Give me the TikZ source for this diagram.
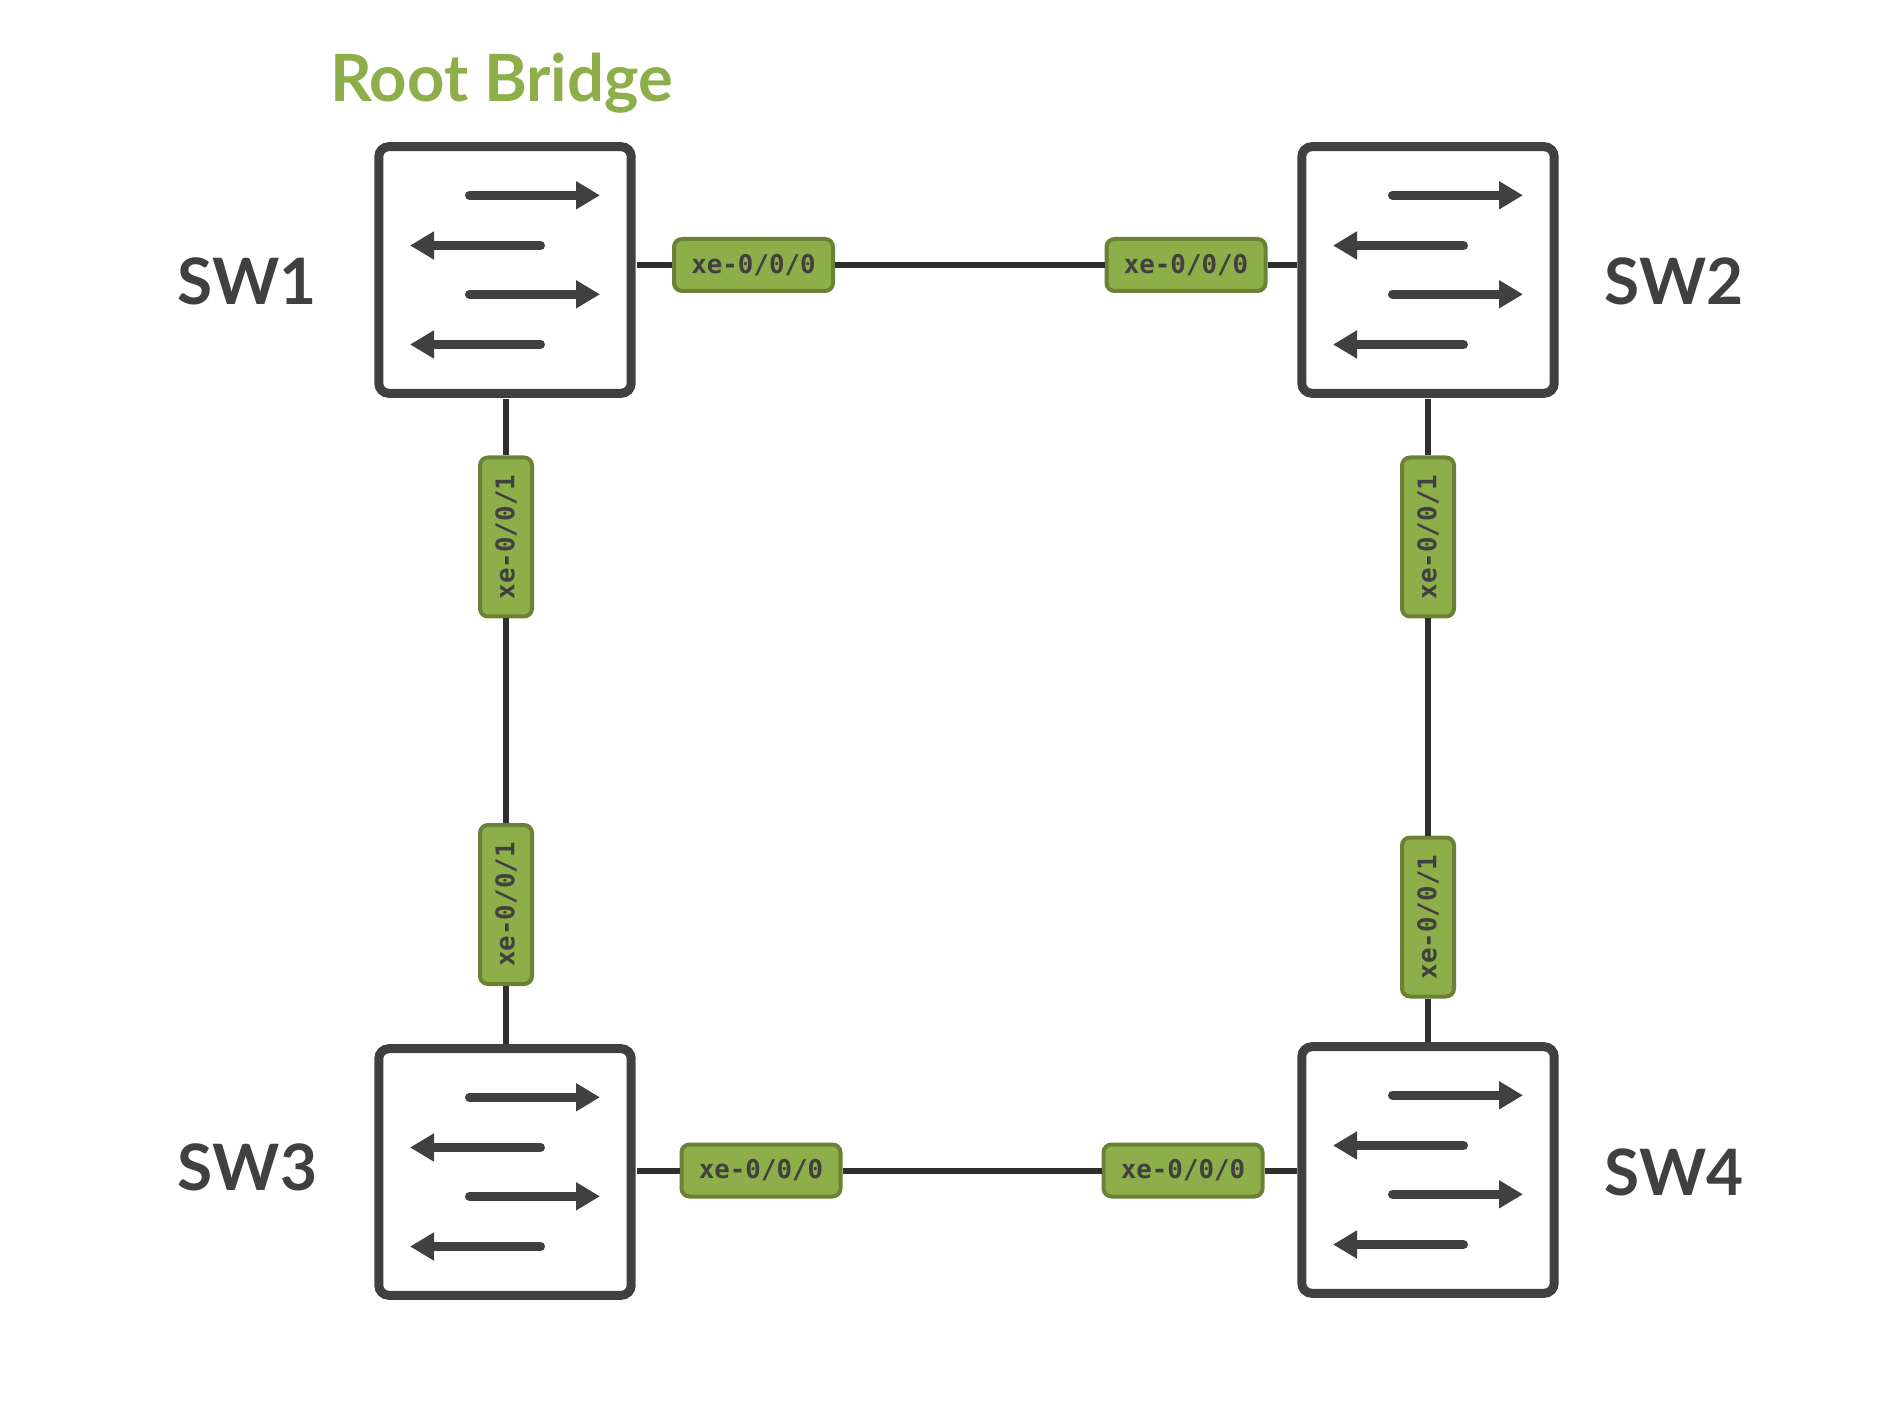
\documentclass[tikz,border=0pt]{standalone}
\usepackage{fontspec}
\setmainfont{Lato}
\setmonofont{DejaVu Sans Mono}
\usetikzlibrary{arrows.meta}
\definecolor{darkgrey}{HTML}{404040}
\definecolor{linegrey}{HTML}{2E2E2E}
\definecolor{portgreen}{HTML}{8EAE4A}
\definecolor{portedge}{HTML}{6B8234}
\tikzset{
  switchbox/.style={draw=darkgrey,line width=4.5pt,rounded corners=5pt,fill=white,inner sep=0pt,minimum width=126.2pt,minimum height=123.3pt},
  swname/.style={anchor=base,text=darkgrey,font=\bfseries\fontsize{32}{32}\selectfont},
  port/.style={draw=portedge,line width=2pt,rounded corners=4pt,fill=portgreen,text=darkgrey,inner sep=0pt,minimum width=79.5pt,minimum height=26pt,font=\ttfamily\bfseries\fontsize{12.9}{12.9}\selectfont},
  portv/.style={port,rotate=90},
  link/.style={draw=linegrey,line width=3pt},
  flow/.style={darkgrey,line width=4.5pt,line cap=round,-{Triangle[length=12pt,width=13.3pt]}}
}
\begin{document}
\begin{tikzpicture}[x=0.5pt,y=-0.5pt]
\useasboundingbox (0,0) rectangle (1880,1406);
% switches
\node[switchbox] (sw1) at (505,270) {};
\node[switchbox] (sw2) at (1428,270) {};
\node[switchbox] (sw3) at (505,1172) {};
\node[switchbox] (sw4) at (1428,1170) {};
% names
\node[swname,text=portgreen,font=\bfseries\fontsize{32.6}{32.6}\selectfont] (root) at (501.5,102) {Root Bridge};
\node[swname] (n1) at (247,305) {SW1};
\node[swname] (n2) at (1674,305) {SW2};
\node[swname] (n3) at (247.5,1190.5) {SW3};
\node[swname] (n4) at (1674,1195) {SW4};
% ports
\node[port] (p12) at (753.5,265) {xe-0/0/0};
\node[port] (p21) at (1186,265) {xe-0/0/0};
\node[port] (p34) at (761,1170.5) {xe-0/0/0};
\node[port] (p43) at (1183,1170.5) {xe-0/0/0};
\node[portv] (p13) at (506,537) {xe-0/0/1};
\node[portv] (p31) at (506,904.5) {xe-0/0/1};
\node[portv] (p24) at (1428,537) {xe-0/0/1};
\node[portv] (p42) at (1428,917) {xe-0/0/1};
% links
\draw[link] ([xshift=0.5pt]sw1.east |- p12) -- (p12);
\draw[link] (p12) -- (p21);
\draw[link] (p21) -- (sw2.west |- p21);
\draw[link] ([xshift=0.5pt]sw3.east |- p34) -- (p34);
\draw[link] (p34) -- (p43);
\draw[link] (p43) -- (sw4.west |- p43);
\draw[link] ([yshift=-0.5pt]p13 |- sw1.south) -- (p13);
\draw[link] (p13) -- (p31);
\draw[link] (p31) -- (p31 |- sw3.north);
\draw[link] ([yshift=-0.5pt]p24 |- sw2.south) -- (p24);
\draw[link] (p24) -- (p42);
\draw[link] (p42) -- (p42 |- sw4.north);
% arrows in the switches
\foreach \s in {sw1,sw2,sw3,sw4} {
  \foreach \dy in {0,99} {
    \draw[flow] ([shift={(-35.5,{-74.7+\dy})}]\s.center) -- ([shift={(95,{-74.7+\dy})}]\s.center);
    \draw[flow] ([shift={(35.5,{-24.5+\dy})}]\s.center) -- ([shift={(-95,{-24.5+\dy})}]\s.center);
  }
}
\end{tikzpicture}
\end{document}
